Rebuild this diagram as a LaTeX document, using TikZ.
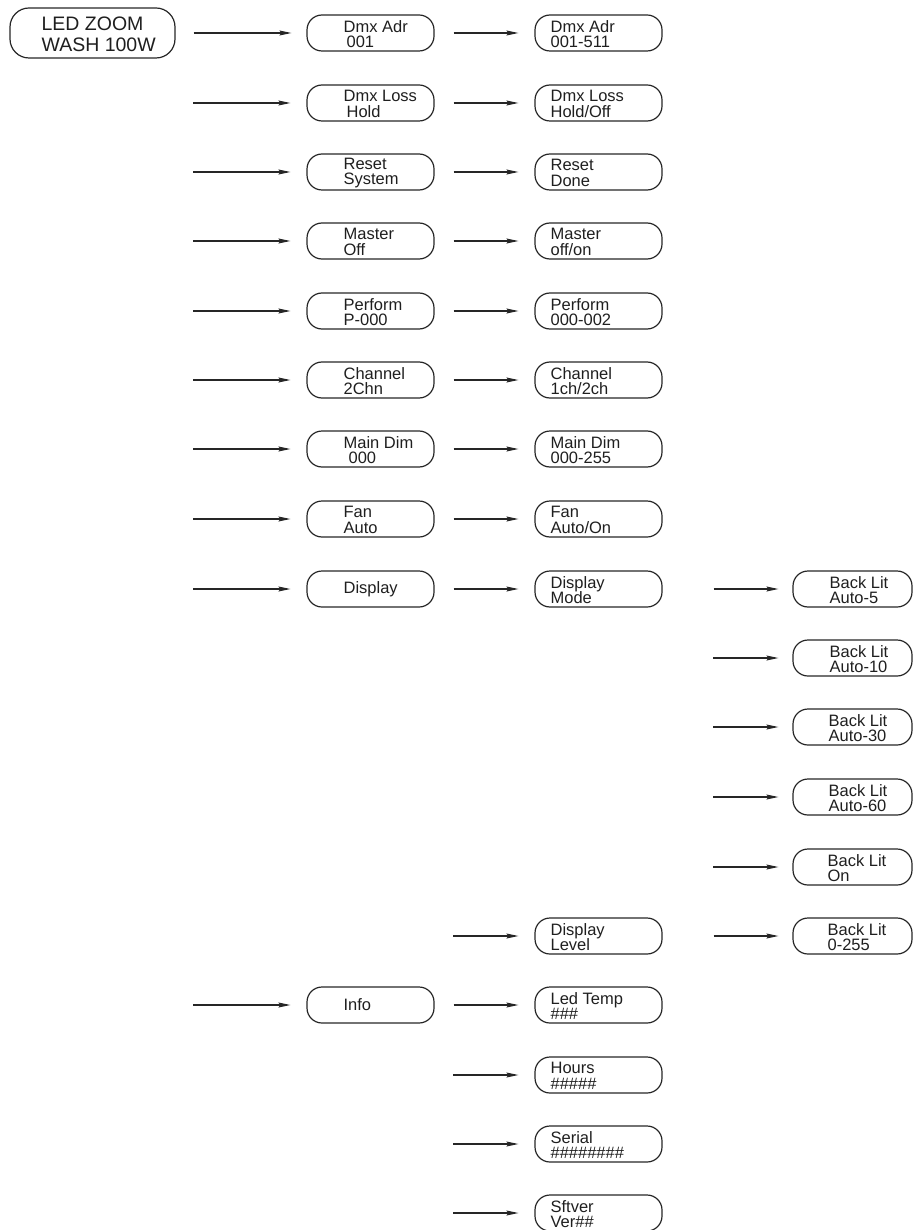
\documentclass[tikz,border=0pt]{standalone}
\usepackage{fontspec}
\setmainfont{Liberation Sans}
\usetikzlibrary{arrows.meta}
\begin{document}
\begin{tikzpicture}[x=1pt,y=-1pt,
  box/.style={draw=black!85, line width=1.2pt, rounded corners=15pt, minimum width=127pt, minimum height=36pt, inner sep=0pt},
  sbox/.style={box, minimum width=119pt},
  bigbox/.style={box, minimum width=165pt, minimum height=50pt, rounded corners=19pt},
  lbl/.style={anchor=west, align=left, inner sep=0pt, font=\fontsize{16.5}{15.5}\selectfont, text=black!88},
  biglbl/.style={lbl, font=\fontsize{19.5}{21}\selectfont},
  arr/.style={-{Stealth[length=12pt,width=5pt,inset=2pt]}, line width=1.1pt, draw=black!85},
]
\useasboundingbox (0,0) rectangle (914,1230);

% boxes
\node[bigbox] (led) at (92.5,33) {};
\foreach \n/\y in {a1/33,a2/103,a3/172,a4/241,a5/311,a6/380,a7/449,a8/519,a9/589,ainfo/1005}
  \node[box] (\n) at (370.5,\y) {};
\foreach \n/\y in {b1/33,b2/103,b3/172,b4/241,b5/311,b6/380,b7/449,b8/519,b9/589,bdl/936,blt/1005,bhr/1075,bser/1144,bsft/1213}
  \node[box] (\n) at (598.5,\y) {};
\foreach \n/\y in {c1/589,c2/658,c3/727,c4/797,c5/867,c6/936}
  \node[sbox] (\n) at (852.5,\y) {};

% labels
\node[biglbl] (tled) at ([xshift=32pt,yshift=-1pt]led.west) {LED ZOOM\\WASH 100W};

\node[lbl] (ta1) at ([xshift=37pt,yshift=-1pt]a1.west) {Dmx Adr\\\hspace*{3pt}001};
\node[lbl] (ta2) at ([xshift=37pt,yshift=-1pt]a2.west) {Dmx Loss\\\hspace*{3pt}Hold};
\node[lbl] (ta3) at ([xshift=37pt,yshift=-1pt]a3.west) {Reset\\System};
\node[lbl] (ta4) at ([xshift=37pt,yshift=-1pt]a4.west) {Master\\Off};
\node[lbl] (ta5) at ([xshift=37pt,yshift=-1pt]a5.west) {Perform\\P-000};
\node[lbl] (ta6) at ([xshift=37pt,yshift=-1pt]a6.west) {Channel\\2Chn};
\node[lbl] (ta7) at ([xshift=37pt,yshift=-1pt]a7.west) {Main Dim\\\hspace*{5pt}000};
\node[lbl] (ta8) at ([xshift=37pt,yshift=-1pt]a8.west) {Fan\\Auto};
\node[lbl] (ta9) at ([xshift=37pt]a9.west) {Display};
\node[lbl] (tainfo) at ([xshift=37pt]ainfo.west) {Info};

\node[lbl] (tb1) at ([xshift=16pt,yshift=-1pt]b1.west) {Dmx Adr\\001-511};
\node[lbl] (tb2) at ([xshift=16pt,yshift=-1pt]b2.west) {Dmx Loss\\Hold/Off};
\node[lbl] (tb3) at ([xshift=16pt,yshift=-1pt]b3.west) {Reset\\Done};
\node[lbl] (tb4) at ([xshift=16pt,yshift=-1pt]b4.west) {Master\\off/on};
\node[lbl] (tb5) at ([xshift=16pt,yshift=-1pt]b5.west) {Perform\\000-002};
\node[lbl] (tb6) at ([xshift=16pt,yshift=-1pt]b6.west) {Channel\\1ch/2ch};
\node[lbl] (tb7) at ([xshift=16pt,yshift=-1pt]b7.west) {Main Dim\\000-255};
\node[lbl] (tb8) at ([xshift=16pt,yshift=-1pt]b8.west) {Fan\\Auto/On};
\node[lbl] (tb9) at ([xshift=16pt,yshift=-1pt]b9.west) {Display\\Mode};
\node[lbl] (tbdl) at ([xshift=16pt,yshift=-1pt]bdl.west) {Display\\Level};
\node[lbl] (tblt) at ([xshift=16pt,yshift=-1pt]blt.west) {Led Temp\\\#\#\#};
\node[lbl] (tbhr) at ([xshift=16pt,yshift=-1pt]bhr.west) {Hours\\\#\#\#\#\#};
\node[lbl] (tbser) at ([xshift=16pt,yshift=-1pt]bser.west) {Serial\\\#\#\#\#\#\#\#\#};
\node[lbl] (tbsft) at ([xshift=16pt,yshift=-1pt]bsft.west) {Sftver\\Ver\#\#};

\node[lbl] (tc1) at ([xshift=37pt,yshift=-1pt]c1.west) {Back Lit\\Auto-5};
\node[lbl] (tc2) at ([xshift=37pt,yshift=-1pt]c2.west) {Back Lit\\Auto-10};
\node[lbl] (tc3) at ([xshift=36pt,yshift=-1pt]c3.west) {Back Lit\\Auto-30};
\node[lbl] (tc4) at ([xshift=36pt,yshift=-1pt]c4.west) {Back Lit\\Auto-60};
\node[lbl] (tc5) at ([xshift=35pt,yshift=-1pt]c5.west) {Back Lit\\On};
\node[lbl] (tc6) at ([xshift=35pt,yshift=-1pt]c6.west) {Back Lit\\0-255};

% free arrow starts
\foreach \n/\y in {a2/103,a3/172,a4/241,a5/311,a6/380,a7/449,a8/519,a9/589,ainfo/1005}
  \coordinate (s\n) at (193,\y);
\foreach \n/\y in {bdl/936,bhr/1075,bser/1144,bsft/1213}
  \coordinate (s\n) at (453,\y);
\foreach \n/\y in {c2/658,c3/727,c4/797,c5/867}
  \coordinate (s\n) at (713,\y);

% arrows
\draw[arr, shorten <=18pt, shorten >=15pt] (led.east) -- (a1.west);
\foreach \n in {a2,a3,a4,a5,a6,a7,a8,a9,ainfo}
  \draw[arr, shorten >=16pt] (s\n) -- (\n.west);
\foreach \s/\t in {a1/b1,a2/b2,a3/b3,a4/b4,a5/b5,a6/b6,a7/b7,a8/b8,a9/b9,ainfo/blt}
  \draw[arr, shorten <=19pt, shorten >=16pt] (\s.east) -- (\t.west);
\foreach \n in {bdl,bhr,bser,bsft}
  \draw[arr, shorten >=16pt] (s\n) -- (\n.west);
\draw[arr, shorten <=51pt, shorten >=14pt] (b9.east) -- (c1.west);
\draw[arr, shorten <=51pt, shorten >=14pt] (bdl.east) -- (c6.west);
\foreach \n in {c2,c3,c4,c5}
  \draw[arr, shorten >=14pt] (s\n) -- (\n.west);
\end{tikzpicture}
\end{document}
